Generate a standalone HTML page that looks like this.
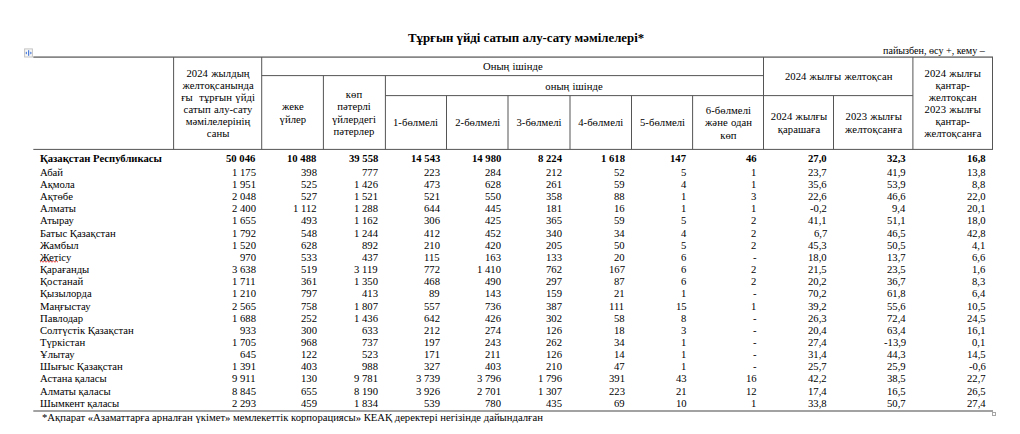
<!DOCTYPE html>
<html><head><meta charset="utf-8">
<style>
html,body{margin:0;padding:0;background:#fff;}
body{width:1020px;height:434px;position:relative;overflow:hidden;font-family:"Liberation Serif",serif;color:#000;}
.hc,.r,.title,.unit,.foot{position:absolute;white-space:nowrap;}
.hc{text-align:center;word-spacing:0.5px;letter-spacing:0.05px;font-size:10.67px;line-height:12.1px;transform-origin:0 9.65px;}
.r{font-size:10.67px;line-height:12.1px;transform-origin:0 9.65px;}
.b{font-weight:bold;}
.title{left:0;width:1052.20px;text-align:center;font-weight:bold;font-size:12.83px;line-height:15px;}
.unit{font-size:10.1px;line-height:12px;}
.foot{font-size:10.67px;line-height:12px;}
</style></head><body>
<svg style="position:absolute;left:0;top:0" width="1020" height="434" viewBox="0 0 1020 434">
<rect x="33.30" y="56.40" width="959.70" height="1.4" fill="#6a6a6a"/>
<rect x="261.70" y="75.10" width="501.80" height="1" fill="#555555"/>
<rect x="385.40" y="95.10" width="527.50" height="1" fill="#555555"/>
<rect x="33.30" y="148.90" width="959.70" height="1" fill="#555555"/>
<rect x="33.30" y="410.00" width="959.70" height="2" fill="#a2a2a2"/>
<rect x="173.10" y="57.10" width="1" height="92.30" fill="#555555"/>
<rect x="261.20" y="57.10" width="1" height="92.30" fill="#555555"/>
<rect x="322.90" y="75.60" width="1" height="73.80" fill="#555555"/>
<rect x="384.90" y="75.60" width="1" height="73.80" fill="#555555"/>
<rect x="446.00" y="95.60" width="1" height="53.80" fill="#555555"/>
<rect x="507.50" y="95.60" width="1" height="53.80" fill="#555555"/>
<rect x="569.50" y="95.60" width="1" height="53.80" fill="#555555"/>
<rect x="631.00" y="95.60" width="1" height="53.80" fill="#555555"/>
<rect x="692.10" y="95.60" width="1" height="53.80" fill="#555555"/>
<rect x="763.00" y="57.10" width="1" height="92.30" fill="#555555"/>
<rect x="833.00" y="95.60" width="1" height="53.80" fill="#555555"/>
<rect x="912.40" y="57.10" width="1" height="92.30" fill="#555555"/>
<rect x="992.00" y="57.10" width="1" height="92.30" fill="#555555"/>
<rect x="24.6" y="48.9" width="7.8" height="8.1" fill="#f8f8f8" stroke="#c4c4c4" stroke-width="1"/>
<rect x="28.1" y="50.2" width="1.1" height="5.6" fill="#3b6fd6"/>
<path d="M25.3 53 L26.9 51.4 L26.9 54.6 Z" fill="#3b6fd6"/>
<path d="M31.9 53 L30.3 51.4 L30.3 54.6 Z" fill="#3b6fd6"/>
<path d="M40 262.2 L41.5 260.9 L43 262.2 L44.5 260.9 L46 262.2 L47.5 260.9 L49 262.2 L50.5 260.9 L52 262.2 L53.5 260.9 L55 262.2 L56.5 260.9 L58 262.2" stroke="#e03838" stroke-width="1" fill="none"/>
<rect x="992.5" y="412.5" width="3" height="3" fill="#fff" stroke="#a6a6a6" stroke-width="1"/>
</svg>
<div class="title" style="top:31px;transform:translateY(0.47px) skewX(0.01deg) scaleY(1.05);transform-origin:0 11.83px">Тұрғын үйді сатып алу-сату мәмілелері*</div>
<div class="unit" style="right:34.90px;top:45px;transform:translateY(0.29px) skewX(0.01deg) scaleY(1.05);transform-origin:0 9.41px">пайызбен, өсу +, кему –</div>
<div class="hc" style="left:173.60px;width:88.10px;top:66px;transform:translateY(0.95px) skewX(0.01deg) scaleY(1.05)">2024 жылдың</div>
<div class="hc" style="left:173.60px;width:88.10px;top:79px;transform:translateY(0.05px) skewX(0.01deg) scaleY(1.05)">желтоқсанында</div>
<div class="hc" style="left:173.60px;width:88.10px;top:91px;transform:translateY(0.15px) skewX(0.01deg) scaleY(1.05)">ғы&nbsp; тұрғын үйді</div>
<div class="hc" style="left:173.60px;width:88.10px;top:103px;transform:translateY(0.25px) skewX(0.01deg) scaleY(1.05)">сатып алу-сату</div>
<div class="hc" style="left:173.60px;width:88.10px;top:115px;transform:translateY(0.35px) skewX(0.01deg) scaleY(1.05)">мәмілелерінің</div>
<div class="hc" style="left:173.60px;width:88.10px;top:127px;transform:translateY(0.45px) skewX(0.01deg) scaleY(1.05)">саны</div>
<div class="hc" style="left:261.70px;width:61.70px;top:100px;transform:translateY(0.40px) skewX(0.01deg) scaleY(1.05)">жеке</div>
<div class="hc" style="left:261.70px;width:61.70px;top:112px;transform:translateY(0.50px) skewX(0.01deg) scaleY(1.05)">үйлер</div>
<div class="hc" style="left:323.40px;width:62.00px;top:88px;transform:translateY(0.30px) skewX(0.01deg) scaleY(1.05)">көп</div>
<div class="hc" style="left:323.40px;width:62.00px;top:100px;transform:translateY(0.40px) skewX(0.01deg) scaleY(1.05)">пәтерлі</div>
<div class="hc" style="left:323.40px;width:62.00px;top:112px;transform:translateY(0.50px) skewX(0.01deg) scaleY(1.05)">үйлердегі</div>
<div class="hc" style="left:323.40px;width:62.00px;top:124px;transform:translateY(0.60px) skewX(0.01deg) scaleY(1.05)">пәтерлер</div>
<div class="hc" style="left:261.70px;width:501.80px;top:60px;transform:translateY(0.30px) skewX(0.01deg) scaleY(1.05)">Оның ішінде</div>
<div class="hc" style="left:385.40px;width:378.10px;top:79px;transform:translateY(0.55px) skewX(0.01deg) scaleY(1.05)">оның ішінде</div>
<div class="hc" style="left:385.40px;width:61.10px;top:116px;transform:translateY(0.45px) skewX(0.01deg) scaleY(1.05)">1-бөлмелі</div>
<div class="hc" style="left:446.50px;width:61.50px;top:116px;transform:translateY(0.45px) skewX(0.01deg) scaleY(1.05)">2-бөлмелі</div>
<div class="hc" style="left:508.00px;width:62.00px;top:116px;transform:translateY(0.45px) skewX(0.01deg) scaleY(1.05)">3-бөлмелі</div>
<div class="hc" style="left:570.00px;width:61.50px;top:116px;transform:translateY(0.45px) skewX(0.01deg) scaleY(1.05)">4-бөлмелі</div>
<div class="hc" style="left:631.50px;width:61.10px;top:116px;transform:translateY(0.45px) skewX(0.01deg) scaleY(1.05)">5-бөлмелі</div>
<div class="hc" style="left:692.60px;width:70.90px;top:104px;transform:translateY(0.35px) skewX(0.01deg) scaleY(1.05)">6-бөлмелі</div>
<div class="hc" style="left:692.60px;width:70.90px;top:116px;transform:translateY(0.45px) skewX(0.01deg) scaleY(1.05)">және одан</div>
<div class="hc" style="left:692.60px;width:70.90px;top:128px;transform:translateY(0.55px) skewX(0.01deg) scaleY(1.05)">көп</div>
<div class="hc" style="left:763.50px;width:149.40px;top:70px;transform:translateY(0.30px) skewX(0.01deg) scaleY(1.05)">2024 жылғы желтоқсан</div>
<div class="hc" style="left:763.50px;width:70.00px;top:110px;transform:translateY(0.40px) skewX(0.01deg) scaleY(1.05)">2024 жылғы</div>
<div class="hc" style="left:763.50px;width:70.00px;top:122px;transform:translateY(0.50px) skewX(0.01deg) scaleY(1.05)">қарашаға</div>
<div class="hc" style="left:833.50px;width:79.40px;top:110px;transform:translateY(0.40px) skewX(0.01deg) scaleY(1.05)">2023 жылғы</div>
<div class="hc" style="left:833.50px;width:79.40px;top:122px;transform:translateY(0.50px) skewX(0.01deg) scaleY(1.05)">желтоқсанға</div>
<div class="hc" style="left:912.90px;width:79.60px;top:66px;transform:translateY(0.95px) skewX(0.01deg) scaleY(1.05)">2024 жылғы</div>
<div class="hc" style="left:912.90px;width:79.60px;top:79px;transform:translateY(0.05px) skewX(0.01deg) scaleY(1.05)">қантар-</div>
<div class="hc" style="left:912.90px;width:79.60px;top:91px;transform:translateY(0.15px) skewX(0.01deg) scaleY(1.05)">желтоқсан</div>
<div class="hc" style="left:912.90px;width:79.60px;top:103px;transform:translateY(0.25px) skewX(0.01deg) scaleY(1.05)">2023 жылғы</div>
<div class="hc" style="left:912.90px;width:79.60px;top:115px;transform:translateY(0.35px) skewX(0.01deg) scaleY(1.05)">қантар-</div>
<div class="hc" style="left:912.90px;width:79.60px;top:127px;transform:translateY(0.45px) skewX(0.01deg) scaleY(1.05)">желтоқсанға</div>
<div class="r b" style="left:40.2px;top:152px;transform:translateY(0.15px) skewX(0.01deg) scaleY(1.05)">Қазақстан Республикасы</div>
<div class="r b" style="right:764.40px;top:152px;transform:translateY(0.15px) skewX(0.01deg) scaleY(1.05)">50 046</div>
<div class="r b" style="right:703.40px;top:152px;transform:translateY(0.15px) skewX(0.01deg) scaleY(1.05)">10 488</div>
<div class="r b" style="right:642.20px;top:152px;transform:translateY(0.15px) skewX(0.01deg) scaleY(1.05)">39 558</div>
<div class="r b" style="right:580.20px;top:152px;transform:translateY(0.15px) skewX(0.01deg) scaleY(1.05)">14 543</div>
<div class="r b" style="right:519.00px;top:152px;transform:translateY(0.15px) skewX(0.01deg) scaleY(1.05)">14 980</div>
<div class="r b" style="right:457.80px;top:152px;transform:translateY(0.15px) skewX(0.01deg) scaleY(1.05)">8 224</div>
<div class="r b" style="right:395.40px;top:152px;transform:translateY(0.15px) skewX(0.01deg) scaleY(1.05)">1 618</div>
<div class="r b" style="right:333.70px;top:152px;transform:translateY(0.15px) skewX(0.01deg) scaleY(1.05)">147</div>
<div class="r b" style="right:263.70px;top:152px;transform:translateY(0.15px) skewX(0.01deg) scaleY(1.05)">46</div>
<div class="r b" style="right:193.10px;top:152px;transform:translateY(0.15px) skewX(0.01deg) scaleY(1.05)">27,0</div>
<div class="r b" style="right:114.20px;top:152px;transform:translateY(0.15px) skewX(0.01deg) scaleY(1.05)">32,3</div>
<div class="r b" style="right:34.20px;top:152px;transform:translateY(0.15px) skewX(0.01deg) scaleY(1.05)">16,8</div>
<div class="r" style="left:40.2px;top:165px;transform:translateY(0.85px) skewX(0.01deg) scaleY(1.05)">Абай</div>
<div class="r" style="right:764.40px;top:165px;transform:translateY(0.85px) skewX(0.01deg) scaleY(1.05)">1 175</div>
<div class="r" style="right:703.40px;top:165px;transform:translateY(0.85px) skewX(0.01deg) scaleY(1.05)">398</div>
<div class="r" style="right:642.20px;top:165px;transform:translateY(0.85px) skewX(0.01deg) scaleY(1.05)">777</div>
<div class="r" style="right:580.20px;top:165px;transform:translateY(0.85px) skewX(0.01deg) scaleY(1.05)">223</div>
<div class="r" style="right:519.00px;top:165px;transform:translateY(0.85px) skewX(0.01deg) scaleY(1.05)">284</div>
<div class="r" style="right:457.80px;top:165px;transform:translateY(0.85px) skewX(0.01deg) scaleY(1.05)">212</div>
<div class="r" style="right:395.40px;top:165px;transform:translateY(0.85px) skewX(0.01deg) scaleY(1.05)">52</div>
<div class="r" style="right:333.70px;top:165px;transform:translateY(0.85px) skewX(0.01deg) scaleY(1.05)">5</div>
<div class="r" style="right:263.70px;top:165px;transform:translateY(0.85px) skewX(0.01deg) scaleY(1.05)">1</div>
<div class="r" style="right:193.10px;top:165px;transform:translateY(0.85px) skewX(0.01deg) scaleY(1.05)">23,7</div>
<div class="r" style="right:114.20px;top:165px;transform:translateY(0.85px) skewX(0.01deg) scaleY(1.05)">41,9</div>
<div class="r" style="right:34.20px;top:165px;transform:translateY(0.85px) skewX(0.01deg) scaleY(1.05)">13,8</div>
<div class="r" style="left:40.2px;top:177px;transform:translateY(1.00px) skewX(0.01deg) scaleY(1.05)">Ақмола</div>
<div class="r" style="right:764.40px;top:177px;transform:translateY(1.00px) skewX(0.01deg) scaleY(1.05)">1 951</div>
<div class="r" style="right:703.40px;top:177px;transform:translateY(1.00px) skewX(0.01deg) scaleY(1.05)">525</div>
<div class="r" style="right:642.20px;top:177px;transform:translateY(1.00px) skewX(0.01deg) scaleY(1.05)">1 426</div>
<div class="r" style="right:580.20px;top:177px;transform:translateY(1.00px) skewX(0.01deg) scaleY(1.05)">473</div>
<div class="r" style="right:519.00px;top:177px;transform:translateY(1.00px) skewX(0.01deg) scaleY(1.05)">628</div>
<div class="r" style="right:457.80px;top:177px;transform:translateY(1.00px) skewX(0.01deg) scaleY(1.05)">261</div>
<div class="r" style="right:395.40px;top:177px;transform:translateY(1.00px) skewX(0.01deg) scaleY(1.05)">59</div>
<div class="r" style="right:333.70px;top:177px;transform:translateY(1.00px) skewX(0.01deg) scaleY(1.05)">4</div>
<div class="r" style="right:263.70px;top:177px;transform:translateY(1.00px) skewX(0.01deg) scaleY(1.05)">1</div>
<div class="r" style="right:193.10px;top:177px;transform:translateY(1.00px) skewX(0.01deg) scaleY(1.05)">35,6</div>
<div class="r" style="right:114.20px;top:177px;transform:translateY(1.00px) skewX(0.01deg) scaleY(1.05)">53,9</div>
<div class="r" style="right:34.20px;top:177px;transform:translateY(1.00px) skewX(0.01deg) scaleY(1.05)">8,8</div>
<div class="r" style="left:40.2px;top:190px;transform:translateY(0.15px) skewX(0.01deg) scaleY(1.05)">Ақтөбе</div>
<div class="r" style="right:764.40px;top:190px;transform:translateY(0.15px) skewX(0.01deg) scaleY(1.05)">2 048</div>
<div class="r" style="right:703.40px;top:190px;transform:translateY(0.15px) skewX(0.01deg) scaleY(1.05)">527</div>
<div class="r" style="right:642.20px;top:190px;transform:translateY(0.15px) skewX(0.01deg) scaleY(1.05)">1 521</div>
<div class="r" style="right:580.20px;top:190px;transform:translateY(0.15px) skewX(0.01deg) scaleY(1.05)">521</div>
<div class="r" style="right:519.00px;top:190px;transform:translateY(0.15px) skewX(0.01deg) scaleY(1.05)">550</div>
<div class="r" style="right:457.80px;top:190px;transform:translateY(0.15px) skewX(0.01deg) scaleY(1.05)">358</div>
<div class="r" style="right:395.40px;top:190px;transform:translateY(0.15px) skewX(0.01deg) scaleY(1.05)">88</div>
<div class="r" style="right:333.70px;top:190px;transform:translateY(0.15px) skewX(0.01deg) scaleY(1.05)">1</div>
<div class="r" style="right:263.70px;top:190px;transform:translateY(0.15px) skewX(0.01deg) scaleY(1.05)">3</div>
<div class="r" style="right:193.10px;top:190px;transform:translateY(0.15px) skewX(0.01deg) scaleY(1.05)">22,6</div>
<div class="r" style="right:114.20px;top:190px;transform:translateY(0.15px) skewX(0.01deg) scaleY(1.05)">46,6</div>
<div class="r" style="right:34.20px;top:190px;transform:translateY(0.15px) skewX(0.01deg) scaleY(1.05)">22,0</div>
<div class="r" style="left:40.2px;top:202px;transform:translateY(0.30px) skewX(0.01deg) scaleY(1.05)">Алматы</div>
<div class="r" style="right:764.40px;top:202px;transform:translateY(0.30px) skewX(0.01deg) scaleY(1.05)">2 400</div>
<div class="r" style="right:703.40px;top:202px;transform:translateY(0.30px) skewX(0.01deg) scaleY(1.05)">1 112</div>
<div class="r" style="right:642.20px;top:202px;transform:translateY(0.30px) skewX(0.01deg) scaleY(1.05)">1 288</div>
<div class="r" style="right:580.20px;top:202px;transform:translateY(0.30px) skewX(0.01deg) scaleY(1.05)">644</div>
<div class="r" style="right:519.00px;top:202px;transform:translateY(0.30px) skewX(0.01deg) scaleY(1.05)">445</div>
<div class="r" style="right:457.80px;top:202px;transform:translateY(0.30px) skewX(0.01deg) scaleY(1.05)">181</div>
<div class="r" style="right:395.40px;top:202px;transform:translateY(0.30px) skewX(0.01deg) scaleY(1.05)">16</div>
<div class="r" style="right:333.70px;top:202px;transform:translateY(0.30px) skewX(0.01deg) scaleY(1.05)">1</div>
<div class="r" style="right:263.70px;top:202px;transform:translateY(0.30px) skewX(0.01deg) scaleY(1.05)">1</div>
<div class="r" style="right:193.10px;top:202px;transform:translateY(0.30px) skewX(0.01deg) scaleY(1.05)">-0,2</div>
<div class="r" style="right:114.20px;top:202px;transform:translateY(0.30px) skewX(0.01deg) scaleY(1.05)">9,4</div>
<div class="r" style="right:34.20px;top:202px;transform:translateY(0.30px) skewX(0.01deg) scaleY(1.05)">20,1</div>
<div class="r" style="left:40.2px;top:214px;transform:translateY(0.45px) skewX(0.01deg) scaleY(1.05)">Атырау</div>
<div class="r" style="right:764.40px;top:214px;transform:translateY(0.45px) skewX(0.01deg) scaleY(1.05)">1 655</div>
<div class="r" style="right:703.40px;top:214px;transform:translateY(0.45px) skewX(0.01deg) scaleY(1.05)">493</div>
<div class="r" style="right:642.20px;top:214px;transform:translateY(0.45px) skewX(0.01deg) scaleY(1.05)">1 162</div>
<div class="r" style="right:580.20px;top:214px;transform:translateY(0.45px) skewX(0.01deg) scaleY(1.05)">306</div>
<div class="r" style="right:519.00px;top:214px;transform:translateY(0.45px) skewX(0.01deg) scaleY(1.05)">425</div>
<div class="r" style="right:457.80px;top:214px;transform:translateY(0.45px) skewX(0.01deg) scaleY(1.05)">365</div>
<div class="r" style="right:395.40px;top:214px;transform:translateY(0.45px) skewX(0.01deg) scaleY(1.05)">59</div>
<div class="r" style="right:333.70px;top:214px;transform:translateY(0.45px) skewX(0.01deg) scaleY(1.05)">5</div>
<div class="r" style="right:263.70px;top:214px;transform:translateY(0.45px) skewX(0.01deg) scaleY(1.05)">2</div>
<div class="r" style="right:193.10px;top:214px;transform:translateY(0.45px) skewX(0.01deg) scaleY(1.05)">41,1</div>
<div class="r" style="right:114.20px;top:214px;transform:translateY(0.45px) skewX(0.01deg) scaleY(1.05)">51,1</div>
<div class="r" style="right:34.20px;top:214px;transform:translateY(0.45px) skewX(0.01deg) scaleY(1.05)">18,0</div>
<div class="r" style="left:40.2px;top:226px;transform:translateY(0.60px) skewX(0.01deg) scaleY(1.05)">Батыс Қазақстан</div>
<div class="r" style="right:764.40px;top:226px;transform:translateY(0.60px) skewX(0.01deg) scaleY(1.05)">1 792</div>
<div class="r" style="right:703.40px;top:226px;transform:translateY(0.60px) skewX(0.01deg) scaleY(1.05)">548</div>
<div class="r" style="right:642.20px;top:226px;transform:translateY(0.60px) skewX(0.01deg) scaleY(1.05)">1 244</div>
<div class="r" style="right:580.20px;top:226px;transform:translateY(0.60px) skewX(0.01deg) scaleY(1.05)">412</div>
<div class="r" style="right:519.00px;top:226px;transform:translateY(0.60px) skewX(0.01deg) scaleY(1.05)">452</div>
<div class="r" style="right:457.80px;top:226px;transform:translateY(0.60px) skewX(0.01deg) scaleY(1.05)">340</div>
<div class="r" style="right:395.40px;top:226px;transform:translateY(0.60px) skewX(0.01deg) scaleY(1.05)">34</div>
<div class="r" style="right:333.70px;top:226px;transform:translateY(0.60px) skewX(0.01deg) scaleY(1.05)">4</div>
<div class="r" style="right:263.70px;top:226px;transform:translateY(0.60px) skewX(0.01deg) scaleY(1.05)">2</div>
<div class="r" style="right:193.10px;top:226px;transform:translateY(0.60px) skewX(0.01deg) scaleY(1.05)">6,7</div>
<div class="r" style="right:114.20px;top:226px;transform:translateY(0.60px) skewX(0.01deg) scaleY(1.05)">46,5</div>
<div class="r" style="right:34.20px;top:226px;transform:translateY(0.60px) skewX(0.01deg) scaleY(1.05)">42,8</div>
<div class="r" style="left:40.2px;top:238px;transform:translateY(0.75px) skewX(0.01deg) scaleY(1.05)">Жамбыл</div>
<div class="r" style="right:764.40px;top:238px;transform:translateY(0.75px) skewX(0.01deg) scaleY(1.05)">1 520</div>
<div class="r" style="right:703.40px;top:238px;transform:translateY(0.75px) skewX(0.01deg) scaleY(1.05)">628</div>
<div class="r" style="right:642.20px;top:238px;transform:translateY(0.75px) skewX(0.01deg) scaleY(1.05)">892</div>
<div class="r" style="right:580.20px;top:238px;transform:translateY(0.75px) skewX(0.01deg) scaleY(1.05)">210</div>
<div class="r" style="right:519.00px;top:238px;transform:translateY(0.75px) skewX(0.01deg) scaleY(1.05)">420</div>
<div class="r" style="right:457.80px;top:238px;transform:translateY(0.75px) skewX(0.01deg) scaleY(1.05)">205</div>
<div class="r" style="right:395.40px;top:238px;transform:translateY(0.75px) skewX(0.01deg) scaleY(1.05)">50</div>
<div class="r" style="right:333.70px;top:238px;transform:translateY(0.75px) skewX(0.01deg) scaleY(1.05)">5</div>
<div class="r" style="right:263.70px;top:238px;transform:translateY(0.75px) skewX(0.01deg) scaleY(1.05)">2</div>
<div class="r" style="right:193.10px;top:238px;transform:translateY(0.75px) skewX(0.01deg) scaleY(1.05)">45,3</div>
<div class="r" style="right:114.20px;top:238px;transform:translateY(0.75px) skewX(0.01deg) scaleY(1.05)">50,5</div>
<div class="r" style="right:34.20px;top:238px;transform:translateY(0.75px) skewX(0.01deg) scaleY(1.05)">4,1</div>
<div class="r" style="left:40.2px;top:250px;transform:translateY(0.90px) skewX(0.01deg) scaleY(1.05)">Жетісу</div>
<div class="r" style="right:764.40px;top:250px;transform:translateY(0.90px) skewX(0.01deg) scaleY(1.05)">970</div>
<div class="r" style="right:703.40px;top:250px;transform:translateY(0.90px) skewX(0.01deg) scaleY(1.05)">533</div>
<div class="r" style="right:642.20px;top:250px;transform:translateY(0.90px) skewX(0.01deg) scaleY(1.05)">437</div>
<div class="r" style="right:580.20px;top:250px;transform:translateY(0.90px) skewX(0.01deg) scaleY(1.05)">115</div>
<div class="r" style="right:519.00px;top:250px;transform:translateY(0.90px) skewX(0.01deg) scaleY(1.05)">163</div>
<div class="r" style="right:457.80px;top:250px;transform:translateY(0.90px) skewX(0.01deg) scaleY(1.05)">133</div>
<div class="r" style="right:395.40px;top:250px;transform:translateY(0.90px) skewX(0.01deg) scaleY(1.05)">20</div>
<div class="r" style="right:333.70px;top:250px;transform:translateY(0.90px) skewX(0.01deg) scaleY(1.05)">6</div>
<div class="r" style="right:263.70px;top:250px;transform:translateY(0.90px) skewX(0.01deg) scaleY(1.05)">-</div>
<div class="r" style="right:193.10px;top:250px;transform:translateY(0.90px) skewX(0.01deg) scaleY(1.05)">18,0</div>
<div class="r" style="right:114.20px;top:250px;transform:translateY(0.90px) skewX(0.01deg) scaleY(1.05)">13,7</div>
<div class="r" style="right:34.20px;top:250px;transform:translateY(0.90px) skewX(0.01deg) scaleY(1.05)">6,6</div>
<div class="r" style="left:40.2px;top:263px;transform:translateY(0.05px) skewX(0.01deg) scaleY(1.05)">Қарағанды</div>
<div class="r" style="right:764.40px;top:263px;transform:translateY(0.05px) skewX(0.01deg) scaleY(1.05)">3 638</div>
<div class="r" style="right:703.40px;top:263px;transform:translateY(0.05px) skewX(0.01deg) scaleY(1.05)">519</div>
<div class="r" style="right:642.20px;top:263px;transform:translateY(0.05px) skewX(0.01deg) scaleY(1.05)">3 119</div>
<div class="r" style="right:580.20px;top:263px;transform:translateY(0.05px) skewX(0.01deg) scaleY(1.05)">772</div>
<div class="r" style="right:519.00px;top:263px;transform:translateY(0.05px) skewX(0.01deg) scaleY(1.05)">1 410</div>
<div class="r" style="right:457.80px;top:263px;transform:translateY(0.05px) skewX(0.01deg) scaleY(1.05)">762</div>
<div class="r" style="right:395.40px;top:263px;transform:translateY(0.05px) skewX(0.01deg) scaleY(1.05)">167</div>
<div class="r" style="right:333.70px;top:263px;transform:translateY(0.05px) skewX(0.01deg) scaleY(1.05)">6</div>
<div class="r" style="right:263.70px;top:263px;transform:translateY(0.05px) skewX(0.01deg) scaleY(1.05)">2</div>
<div class="r" style="right:193.10px;top:263px;transform:translateY(0.05px) skewX(0.01deg) scaleY(1.05)">21,5</div>
<div class="r" style="right:114.20px;top:263px;transform:translateY(0.05px) skewX(0.01deg) scaleY(1.05)">23,5</div>
<div class="r" style="right:34.20px;top:263px;transform:translateY(0.05px) skewX(0.01deg) scaleY(1.05)">1,6</div>
<div class="r" style="left:40.2px;top:275px;transform:translateY(0.20px) skewX(0.01deg) scaleY(1.05)">Қостанай</div>
<div class="r" style="right:764.40px;top:275px;transform:translateY(0.20px) skewX(0.01deg) scaleY(1.05)">1 711</div>
<div class="r" style="right:703.40px;top:275px;transform:translateY(0.20px) skewX(0.01deg) scaleY(1.05)">361</div>
<div class="r" style="right:642.20px;top:275px;transform:translateY(0.20px) skewX(0.01deg) scaleY(1.05)">1 350</div>
<div class="r" style="right:580.20px;top:275px;transform:translateY(0.20px) skewX(0.01deg) scaleY(1.05)">468</div>
<div class="r" style="right:519.00px;top:275px;transform:translateY(0.20px) skewX(0.01deg) scaleY(1.05)">490</div>
<div class="r" style="right:457.80px;top:275px;transform:translateY(0.20px) skewX(0.01deg) scaleY(1.05)">297</div>
<div class="r" style="right:395.40px;top:275px;transform:translateY(0.20px) skewX(0.01deg) scaleY(1.05)">87</div>
<div class="r" style="right:333.70px;top:275px;transform:translateY(0.20px) skewX(0.01deg) scaleY(1.05)">6</div>
<div class="r" style="right:263.70px;top:275px;transform:translateY(0.20px) skewX(0.01deg) scaleY(1.05)">2</div>
<div class="r" style="right:193.10px;top:275px;transform:translateY(0.20px) skewX(0.01deg) scaleY(1.05)">20,2</div>
<div class="r" style="right:114.20px;top:275px;transform:translateY(0.20px) skewX(0.01deg) scaleY(1.05)">36,7</div>
<div class="r" style="right:34.20px;top:275px;transform:translateY(0.20px) skewX(0.01deg) scaleY(1.05)">8,3</div>
<div class="r" style="left:40.2px;top:287px;transform:translateY(0.35px) skewX(0.01deg) scaleY(1.05)">Қызылорда</div>
<div class="r" style="right:764.40px;top:287px;transform:translateY(0.35px) skewX(0.01deg) scaleY(1.05)">1 210</div>
<div class="r" style="right:703.40px;top:287px;transform:translateY(0.35px) skewX(0.01deg) scaleY(1.05)">797</div>
<div class="r" style="right:642.20px;top:287px;transform:translateY(0.35px) skewX(0.01deg) scaleY(1.05)">413</div>
<div class="r" style="right:580.20px;top:287px;transform:translateY(0.35px) skewX(0.01deg) scaleY(1.05)">89</div>
<div class="r" style="right:519.00px;top:287px;transform:translateY(0.35px) skewX(0.01deg) scaleY(1.05)">143</div>
<div class="r" style="right:457.80px;top:287px;transform:translateY(0.35px) skewX(0.01deg) scaleY(1.05)">159</div>
<div class="r" style="right:395.40px;top:287px;transform:translateY(0.35px) skewX(0.01deg) scaleY(1.05)">21</div>
<div class="r" style="right:333.70px;top:287px;transform:translateY(0.35px) skewX(0.01deg) scaleY(1.05)">1</div>
<div class="r" style="right:263.70px;top:287px;transform:translateY(0.35px) skewX(0.01deg) scaleY(1.05)">-</div>
<div class="r" style="right:193.10px;top:287px;transform:translateY(0.35px) skewX(0.01deg) scaleY(1.05)">70,2</div>
<div class="r" style="right:114.20px;top:287px;transform:translateY(0.35px) skewX(0.01deg) scaleY(1.05)">61,8</div>
<div class="r" style="right:34.20px;top:287px;transform:translateY(0.35px) skewX(0.01deg) scaleY(1.05)">6,4</div>
<div class="r" style="left:40.2px;top:299px;transform:translateY(0.50px) skewX(0.01deg) scaleY(1.05)">Маңғыстау</div>
<div class="r" style="right:764.40px;top:299px;transform:translateY(0.50px) skewX(0.01deg) scaleY(1.05)">2 565</div>
<div class="r" style="right:703.40px;top:299px;transform:translateY(0.50px) skewX(0.01deg) scaleY(1.05)">758</div>
<div class="r" style="right:642.20px;top:299px;transform:translateY(0.50px) skewX(0.01deg) scaleY(1.05)">1 807</div>
<div class="r" style="right:580.20px;top:299px;transform:translateY(0.50px) skewX(0.01deg) scaleY(1.05)">557</div>
<div class="r" style="right:519.00px;top:299px;transform:translateY(0.50px) skewX(0.01deg) scaleY(1.05)">736</div>
<div class="r" style="right:457.80px;top:299px;transform:translateY(0.50px) skewX(0.01deg) scaleY(1.05)">387</div>
<div class="r" style="right:395.40px;top:299px;transform:translateY(0.50px) skewX(0.01deg) scaleY(1.05)">111</div>
<div class="r" style="right:333.70px;top:299px;transform:translateY(0.50px) skewX(0.01deg) scaleY(1.05)">15</div>
<div class="r" style="right:263.70px;top:299px;transform:translateY(0.50px) skewX(0.01deg) scaleY(1.05)">1</div>
<div class="r" style="right:193.10px;top:299px;transform:translateY(0.50px) skewX(0.01deg) scaleY(1.05)">39,2</div>
<div class="r" style="right:114.20px;top:299px;transform:translateY(0.50px) skewX(0.01deg) scaleY(1.05)">55,6</div>
<div class="r" style="right:34.20px;top:299px;transform:translateY(0.50px) skewX(0.01deg) scaleY(1.05)">10,5</div>
<div class="r" style="left:40.2px;top:311px;transform:translateY(0.65px) skewX(0.01deg) scaleY(1.05)">Павлодар</div>
<div class="r" style="right:764.40px;top:311px;transform:translateY(0.65px) skewX(0.01deg) scaleY(1.05)">1 688</div>
<div class="r" style="right:703.40px;top:311px;transform:translateY(0.65px) skewX(0.01deg) scaleY(1.05)">252</div>
<div class="r" style="right:642.20px;top:311px;transform:translateY(0.65px) skewX(0.01deg) scaleY(1.05)">1 436</div>
<div class="r" style="right:580.20px;top:311px;transform:translateY(0.65px) skewX(0.01deg) scaleY(1.05)">642</div>
<div class="r" style="right:519.00px;top:311px;transform:translateY(0.65px) skewX(0.01deg) scaleY(1.05)">426</div>
<div class="r" style="right:457.80px;top:311px;transform:translateY(0.65px) skewX(0.01deg) scaleY(1.05)">302</div>
<div class="r" style="right:395.40px;top:311px;transform:translateY(0.65px) skewX(0.01deg) scaleY(1.05)">58</div>
<div class="r" style="right:333.70px;top:311px;transform:translateY(0.65px) skewX(0.01deg) scaleY(1.05)">8</div>
<div class="r" style="right:263.70px;top:311px;transform:translateY(0.65px) skewX(0.01deg) scaleY(1.05)">-</div>
<div class="r" style="right:193.10px;top:311px;transform:translateY(0.65px) skewX(0.01deg) scaleY(1.05)">26,3</div>
<div class="r" style="right:114.20px;top:311px;transform:translateY(0.65px) skewX(0.01deg) scaleY(1.05)">72,4</div>
<div class="r" style="right:34.20px;top:311px;transform:translateY(0.65px) skewX(0.01deg) scaleY(1.05)">24,5</div>
<div class="r" style="left:40.2px;top:323px;transform:translateY(0.80px) skewX(0.01deg) scaleY(1.05)">Солтүстік Қазақстан</div>
<div class="r" style="right:764.40px;top:323px;transform:translateY(0.80px) skewX(0.01deg) scaleY(1.05)">933</div>
<div class="r" style="right:703.40px;top:323px;transform:translateY(0.80px) skewX(0.01deg) scaleY(1.05)">300</div>
<div class="r" style="right:642.20px;top:323px;transform:translateY(0.80px) skewX(0.01deg) scaleY(1.05)">633</div>
<div class="r" style="right:580.20px;top:323px;transform:translateY(0.80px) skewX(0.01deg) scaleY(1.05)">212</div>
<div class="r" style="right:519.00px;top:323px;transform:translateY(0.80px) skewX(0.01deg) scaleY(1.05)">274</div>
<div class="r" style="right:457.80px;top:323px;transform:translateY(0.80px) skewX(0.01deg) scaleY(1.05)">126</div>
<div class="r" style="right:395.40px;top:323px;transform:translateY(0.80px) skewX(0.01deg) scaleY(1.05)">18</div>
<div class="r" style="right:333.70px;top:323px;transform:translateY(0.80px) skewX(0.01deg) scaleY(1.05)">3</div>
<div class="r" style="right:263.70px;top:323px;transform:translateY(0.80px) skewX(0.01deg) scaleY(1.05)">-</div>
<div class="r" style="right:193.10px;top:323px;transform:translateY(0.80px) skewX(0.01deg) scaleY(1.05)">20,4</div>
<div class="r" style="right:114.20px;top:323px;transform:translateY(0.80px) skewX(0.01deg) scaleY(1.05)">63,4</div>
<div class="r" style="right:34.20px;top:323px;transform:translateY(0.80px) skewX(0.01deg) scaleY(1.05)">16,1</div>
<div class="r" style="left:40.2px;top:335px;transform:translateY(0.95px) skewX(0.01deg) scaleY(1.05)">Түркістан</div>
<div class="r" style="right:764.40px;top:335px;transform:translateY(0.95px) skewX(0.01deg) scaleY(1.05)">1 705</div>
<div class="r" style="right:703.40px;top:335px;transform:translateY(0.95px) skewX(0.01deg) scaleY(1.05)">968</div>
<div class="r" style="right:642.20px;top:335px;transform:translateY(0.95px) skewX(0.01deg) scaleY(1.05)">737</div>
<div class="r" style="right:580.20px;top:335px;transform:translateY(0.95px) skewX(0.01deg) scaleY(1.05)">197</div>
<div class="r" style="right:519.00px;top:335px;transform:translateY(0.95px) skewX(0.01deg) scaleY(1.05)">243</div>
<div class="r" style="right:457.80px;top:335px;transform:translateY(0.95px) skewX(0.01deg) scaleY(1.05)">262</div>
<div class="r" style="right:395.40px;top:335px;transform:translateY(0.95px) skewX(0.01deg) scaleY(1.05)">34</div>
<div class="r" style="right:333.70px;top:335px;transform:translateY(0.95px) skewX(0.01deg) scaleY(1.05)">1</div>
<div class="r" style="right:263.70px;top:335px;transform:translateY(0.95px) skewX(0.01deg) scaleY(1.05)">-</div>
<div class="r" style="right:193.10px;top:335px;transform:translateY(0.95px) skewX(0.01deg) scaleY(1.05)">27,4</div>
<div class="r" style="right:114.20px;top:335px;transform:translateY(0.95px) skewX(0.01deg) scaleY(1.05)">-13,9</div>
<div class="r" style="right:34.20px;top:335px;transform:translateY(0.95px) skewX(0.01deg) scaleY(1.05)">0,1</div>
<div class="r" style="left:40.2px;top:348px;transform:translateY(0.10px) skewX(0.01deg) scaleY(1.05)">Ұлытау</div>
<div class="r" style="right:764.40px;top:348px;transform:translateY(0.10px) skewX(0.01deg) scaleY(1.05)">645</div>
<div class="r" style="right:703.40px;top:348px;transform:translateY(0.10px) skewX(0.01deg) scaleY(1.05)">122</div>
<div class="r" style="right:642.20px;top:348px;transform:translateY(0.10px) skewX(0.01deg) scaleY(1.05)">523</div>
<div class="r" style="right:580.20px;top:348px;transform:translateY(0.10px) skewX(0.01deg) scaleY(1.05)">171</div>
<div class="r" style="right:519.00px;top:348px;transform:translateY(0.10px) skewX(0.01deg) scaleY(1.05)">211</div>
<div class="r" style="right:457.80px;top:348px;transform:translateY(0.10px) skewX(0.01deg) scaleY(1.05)">126</div>
<div class="r" style="right:395.40px;top:348px;transform:translateY(0.10px) skewX(0.01deg) scaleY(1.05)">14</div>
<div class="r" style="right:333.70px;top:348px;transform:translateY(0.10px) skewX(0.01deg) scaleY(1.05)">1</div>
<div class="r" style="right:263.70px;top:348px;transform:translateY(0.10px) skewX(0.01deg) scaleY(1.05)">-</div>
<div class="r" style="right:193.10px;top:348px;transform:translateY(0.10px) skewX(0.01deg) scaleY(1.05)">31,4</div>
<div class="r" style="right:114.20px;top:348px;transform:translateY(0.10px) skewX(0.01deg) scaleY(1.05)">44,3</div>
<div class="r" style="right:34.20px;top:348px;transform:translateY(0.10px) skewX(0.01deg) scaleY(1.05)">14,5</div>
<div class="r" style="left:40.2px;top:360px;transform:translateY(0.25px) skewX(0.01deg) scaleY(1.05)">Шығыс Қазақстан</div>
<div class="r" style="right:764.40px;top:360px;transform:translateY(0.25px) skewX(0.01deg) scaleY(1.05)">1 391</div>
<div class="r" style="right:703.40px;top:360px;transform:translateY(0.25px) skewX(0.01deg) scaleY(1.05)">403</div>
<div class="r" style="right:642.20px;top:360px;transform:translateY(0.25px) skewX(0.01deg) scaleY(1.05)">988</div>
<div class="r" style="right:580.20px;top:360px;transform:translateY(0.25px) skewX(0.01deg) scaleY(1.05)">327</div>
<div class="r" style="right:519.00px;top:360px;transform:translateY(0.25px) skewX(0.01deg) scaleY(1.05)">403</div>
<div class="r" style="right:457.80px;top:360px;transform:translateY(0.25px) skewX(0.01deg) scaleY(1.05)">210</div>
<div class="r" style="right:395.40px;top:360px;transform:translateY(0.25px) skewX(0.01deg) scaleY(1.05)">47</div>
<div class="r" style="right:333.70px;top:360px;transform:translateY(0.25px) skewX(0.01deg) scaleY(1.05)">1</div>
<div class="r" style="right:263.70px;top:360px;transform:translateY(0.25px) skewX(0.01deg) scaleY(1.05)">-</div>
<div class="r" style="right:193.10px;top:360px;transform:translateY(0.25px) skewX(0.01deg) scaleY(1.05)">25,7</div>
<div class="r" style="right:114.20px;top:360px;transform:translateY(0.25px) skewX(0.01deg) scaleY(1.05)">25,9</div>
<div class="r" style="right:34.20px;top:360px;transform:translateY(0.25px) skewX(0.01deg) scaleY(1.05)">-0,6</div>
<div class="r" style="left:40.2px;top:372px;transform:translateY(0.40px) skewX(0.01deg) scaleY(1.05)">Астана қаласы</div>
<div class="r" style="right:764.40px;top:372px;transform:translateY(0.40px) skewX(0.01deg) scaleY(1.05)">9 911</div>
<div class="r" style="right:703.40px;top:372px;transform:translateY(0.40px) skewX(0.01deg) scaleY(1.05)">130</div>
<div class="r" style="right:642.20px;top:372px;transform:translateY(0.40px) skewX(0.01deg) scaleY(1.05)">9 781</div>
<div class="r" style="right:580.20px;top:372px;transform:translateY(0.40px) skewX(0.01deg) scaleY(1.05)">3 739</div>
<div class="r" style="right:519.00px;top:372px;transform:translateY(0.40px) skewX(0.01deg) scaleY(1.05)">3 796</div>
<div class="r" style="right:457.80px;top:372px;transform:translateY(0.40px) skewX(0.01deg) scaleY(1.05)">1 796</div>
<div class="r" style="right:395.40px;top:372px;transform:translateY(0.40px) skewX(0.01deg) scaleY(1.05)">391</div>
<div class="r" style="right:333.70px;top:372px;transform:translateY(0.40px) skewX(0.01deg) scaleY(1.05)">43</div>
<div class="r" style="right:263.70px;top:372px;transform:translateY(0.40px) skewX(0.01deg) scaleY(1.05)">16</div>
<div class="r" style="right:193.10px;top:372px;transform:translateY(0.40px) skewX(0.01deg) scaleY(1.05)">42,2</div>
<div class="r" style="right:114.20px;top:372px;transform:translateY(0.40px) skewX(0.01deg) scaleY(1.05)">38,5</div>
<div class="r" style="right:34.20px;top:372px;transform:translateY(0.40px) skewX(0.01deg) scaleY(1.05)">22,7</div>
<div class="r" style="left:40.2px;top:384px;transform:translateY(0.55px) skewX(0.01deg) scaleY(1.05)">Алматы қаласы</div>
<div class="r" style="right:764.40px;top:384px;transform:translateY(0.55px) skewX(0.01deg) scaleY(1.05)">8 845</div>
<div class="r" style="right:703.40px;top:384px;transform:translateY(0.55px) skewX(0.01deg) scaleY(1.05)">655</div>
<div class="r" style="right:642.20px;top:384px;transform:translateY(0.55px) skewX(0.01deg) scaleY(1.05)">8 190</div>
<div class="r" style="right:580.20px;top:384px;transform:translateY(0.55px) skewX(0.01deg) scaleY(1.05)">3 926</div>
<div class="r" style="right:519.00px;top:384px;transform:translateY(0.55px) skewX(0.01deg) scaleY(1.05)">2 701</div>
<div class="r" style="right:457.80px;top:384px;transform:translateY(0.55px) skewX(0.01deg) scaleY(1.05)">1 307</div>
<div class="r" style="right:395.40px;top:384px;transform:translateY(0.55px) skewX(0.01deg) scaleY(1.05)">223</div>
<div class="r" style="right:333.70px;top:384px;transform:translateY(0.55px) skewX(0.01deg) scaleY(1.05)">21</div>
<div class="r" style="right:263.70px;top:384px;transform:translateY(0.55px) skewX(0.01deg) scaleY(1.05)">12</div>
<div class="r" style="right:193.10px;top:384px;transform:translateY(0.55px) skewX(0.01deg) scaleY(1.05)">17,4</div>
<div class="r" style="right:114.20px;top:384px;transform:translateY(0.55px) skewX(0.01deg) scaleY(1.05)">16,5</div>
<div class="r" style="right:34.20px;top:384px;transform:translateY(0.55px) skewX(0.01deg) scaleY(1.05)">26,5</div>
<div class="r" style="left:40.2px;top:396px;transform:translateY(0.70px) skewX(0.01deg) scaleY(1.05)">Шымкент қаласы</div>
<div class="r" style="right:764.40px;top:396px;transform:translateY(0.70px) skewX(0.01deg) scaleY(1.05)">2 293</div>
<div class="r" style="right:703.40px;top:396px;transform:translateY(0.70px) skewX(0.01deg) scaleY(1.05)">459</div>
<div class="r" style="right:642.20px;top:396px;transform:translateY(0.70px) skewX(0.01deg) scaleY(1.05)">1 834</div>
<div class="r" style="right:580.20px;top:396px;transform:translateY(0.70px) skewX(0.01deg) scaleY(1.05)">539</div>
<div class="r" style="right:519.00px;top:396px;transform:translateY(0.70px) skewX(0.01deg) scaleY(1.05)">780</div>
<div class="r" style="right:457.80px;top:396px;transform:translateY(0.70px) skewX(0.01deg) scaleY(1.05)">435</div>
<div class="r" style="right:395.40px;top:396px;transform:translateY(0.70px) skewX(0.01deg) scaleY(1.05)">69</div>
<div class="r" style="right:333.70px;top:396px;transform:translateY(0.70px) skewX(0.01deg) scaleY(1.05)">10</div>
<div class="r" style="right:263.70px;top:396px;transform:translateY(0.70px) skewX(0.01deg) scaleY(1.05)">1</div>
<div class="r" style="right:193.10px;top:396px;transform:translateY(0.70px) skewX(0.01deg) scaleY(1.05)">33,8</div>
<div class="r" style="right:114.20px;top:396px;transform:translateY(0.70px) skewX(0.01deg) scaleY(1.05)">50,7</div>
<div class="r" style="right:34.20px;top:396px;transform:translateY(0.70px) skewX(0.01deg) scaleY(1.05)">27,4</div>
<div class="foot" style="left:41.8px;top:410px;transform:translateY(0.80px) skewX(0.01deg) scaleY(1.05);transform-origin:0 9.60px">*Ақпарат «Азаматтарға арналған үкімет» мемлекеттік корпорациясы» КЕАҚ деректері негізінде дайындалған</div>
</body></html>
